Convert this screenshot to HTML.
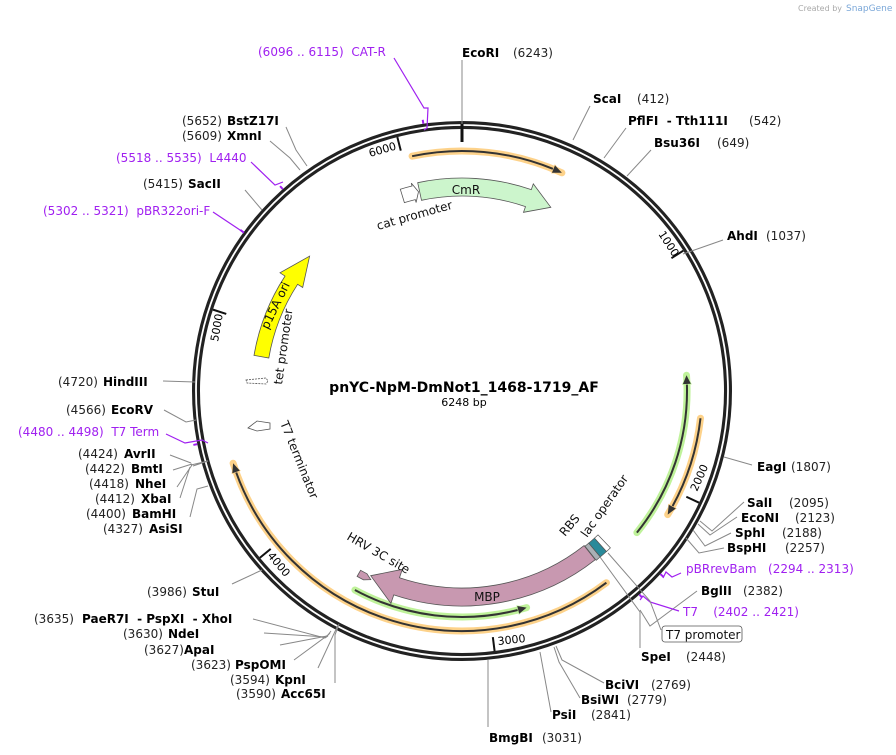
<!DOCTYPE html>
<html><head><meta charset="utf-8">
<style>
html,body{margin:0;padding:0;background:#fff;}
svg{display:block;font-family:"DejaVu Sans","Liberation Sans",sans-serif;}
.b{font-weight:bold;font-size:12px;fill:#000;}
.n{font-size:12px;fill:#222;}
.p{font-size:12px;fill:#a020f0;}
.f{font-size:12px;fill:#111;}
.gl{stroke:#888;stroke-width:1;fill:none;}
.pl{stroke:#a020f0;stroke-width:1.2;fill:none;}
</style></head><body>
<svg id="s" width="896" height="755" viewBox="0 0 896 755" xmlns="http://www.w3.org/2000/svg">
<g id="dyn"></g>
<text x="798" y="11" style="font-size:8px;fill:#aaa">Created by</text>
<text x="846" y="11" style="font-size:9px;fill:#7aa7d8">SnapGene</text>

<polyline class="gl" points="462,60 462,124"/>
<polyline class="gl" points="573,140 590,106"/>
<polyline class="gl" points="604,158 626,128"/>
<polyline class="gl" points="627,176 651,150"/>
<polyline class="gl" points="683,254 723,240"/>
<polyline class="gl" points="724,457 752,465"/>
<polyline class="gl" points="700,521 712,531 744,502"/>
<polyline class="gl" points="698,524 710,535 737,517"/>
<polyline class="gl" points="693,530 705,546 731,533"/>
<polyline class="gl" points="686,538 699,553 724,548"/>
<polyline class="pl" points="663,578 666,572 672,577 681,573"/>
<polyline class="gl" points="640,610 650,626 697,591"/>
<polyline class="pl" points="640,600 643,596 650,602 679,611"/>
<polyline class="gl" points="608,553 650,601 661,630"/>
<polyline class="gl" points="600,557 640,612 640,648"/>
<polyline class="gl" points="556,646 562,660 604,683"/>
<polyline class="gl" points="554,647 559,662 580,698"/>
<polyline class="gl" points="540,652 551,712"/>
<polyline class="gl" points="488,660 488,727"/>
<polyline class="gl" points="262,570 232,584"/>
<polyline class="gl" points="328,636 325,638 253,619"/>
<polyline class="gl" points="329,634 326,637 264,633"/>
<polyline class="gl" points="330,633 327,636 280,645"/>
<polyline class="gl" points="331,631 328,635 294,660"/>
<polyline class="gl" points="338,625 318,668"/>
<polyline class="gl" points="339,624 335,635 335,683"/>
<polyline class="gl" points="191,465 208,461 193,466"/>
<polyline class="gl" points="170,455 191,463"/>
<polyline class="gl" points="173,470 192,464"/>
<polyline class="gl" points="177,487 192,465"/>
<polyline class="gl" points="180,498 190,467"/>
<polyline class="gl" points="190,517 197,489 208,486"/>
<polyline class="pl" points="166,434 185,443 202,440 208,443"/>
<polyline class="gl" points="164,410 186,422 196,420"/>
<polyline class="gl" points="163,381 195,382"/>
<polyline class="gl" points="245,190 262,210"/>
<polyline class="pl" points="213,212 240,230 244,233"/>
<polyline class="pl" points="251,162 275,185 283,182"/>
<polyline class="gl" points="286,127 296,150 307,166"/>
<polyline class="gl" points="270,141 290,158 300,170"/>
<polyline class="pl" points="394,58 424,108 428,108 427,128 424,130"/>

<text x="258" y="56" class="p">(6096 .. 6115)&#160; CAT-R</text>
<text x="462" y="57" class="b">EcoRI</text><text x="513" y="57" class="n">(6243)</text>
<text x="593" y="103" class="b">ScaI</text><text x="637" y="103" class="n">(412)</text>
<text x="628" y="125" class="b">PflFI&#160; - Tth111I</text><text x="749" y="125" class="n">(542)</text>
<text x="654" y="147" class="b">Bsu36I</text><text x="717" y="147" class="n">(649)</text>
<text x="727" y="240" class="b">AhdI</text><text x="766" y="240" class="n">(1037)</text>
<text x="757" y="471" class="b">EagI</text><text x="791" y="471" class="n">(1807)</text>
<text x="747" y="507" class="b">SalI</text><text x="789" y="507" class="n">(2095)</text>
<text x="741" y="522" class="b">EcoNI</text><text x="795" y="522" class="n">(2123)</text>
<text x="735" y="537" class="b">SphI</text><text x="782" y="537" class="n">(2188)</text>
<text x="727" y="552" class="b">BspHI</text><text x="785" y="552" class="n">(2257)</text>
<text x="686" y="573" class="p">pBRrevBam&#160;&#160; (2294 .. 2313)</text>
<text x="701" y="595" class="b">BglII</text><text x="743" y="595" class="n">(2382)</text>
<text x="683" y="616" class="p">T7&#160;&#160;&#160; (2402 .. 2421)</text>
<rect x="662" y="626" width="80" height="16" rx="3" fill="#fff" stroke="#555" stroke-width="0.8"/>
<text x="666" y="639" class="f">T7 promoter</text>
<text x="641" y="661" class="b">SpeI</text><text x="686" y="661" class="n">(2448)</text>
<text x="605" y="689" class="b">BciVI</text><text x="651" y="689" class="n">(2769)</text>
<text x="581" y="704" class="b">BsiWI</text><text x="627" y="704" class="n">(2779)</text>
<text x="552" y="719" class="b">PsiI</text><text x="591" y="719" class="n">(2841)</text>
<text x="489" y="742" class="b">BmgBI</text><text x="542" y="742" class="n">(3031)</text>
<text x="147" y="596" class="n">(3986)</text><text x="192" y="596" class="b">StuI</text>
<text x="34" y="623" class="n">(3635)</text><text x="82" y="623" class="b">PaeR7I&#160; - PspXI&#160; - XhoI</text>
<text x="123" y="638" class="n">(3630)</text><text x="168" y="638" class="b">NdeI</text>
<text x="144" y="654" class="n">(3627)</text><text x="184" y="654" class="b">ApaI</text>
<text x="191" y="669" class="n">(3623)</text><text x="235" y="669" class="b">PspOMI</text>
<text x="230" y="684" class="n">(3594)</text><text x="275" y="684" class="b">KpnI</text>
<text x="236" y="698" class="n">(3590)</text><text x="281" y="698" class="b">Acc65I</text>
<text x="18" y="436" class="p">(4480 .. 4498)&#160; T7 Term</text>
<text x="78" y="458" class="n">(4424)</text><text x="124" y="458" class="b">AvrII</text>
<text x="85" y="473" class="n">(4422)</text><text x="131" y="473" class="b">BmtI</text>
<text x="89" y="488" class="n">(4418)</text><text x="135" y="488" class="b">NheI</text>
<text x="95" y="503" class="n">(4412)</text><text x="141" y="503" class="b">XbaI</text>
<text x="86" y="518" class="n">(4400)</text><text x="132" y="518" class="b">BamHI</text>
<text x="103" y="533" class="n">(4327)</text><text x="149" y="533" class="b">AsiSI</text>
<text x="66" y="414" class="n">(4566)</text><text x="111" y="414" class="b">EcoRV</text>
<text x="58" y="386" class="n">(4720)</text><text x="103" y="386" class="b">HindIII</text>
<text x="143" y="188" class="n">(5415)</text><text x="188" y="188" class="b">SacII</text>
<text x="43" y="215" class="p">(5302 .. 5321)&#160; pBR322ori-F</text>
<text x="116" y="162" class="p">(5518 .. 5535)&#160; L4440</text>
<text x="182" y="125" class="n">(5652)</text><text x="227" y="125" class="b">BstZ17I</text>
<text x="182" y="140" class="n">(5609)</text><text x="227" y="140" class="b">XmnI</text>

<text x="464" y="392" text-anchor="middle" style="font-size:14px;font-weight:bold">pnYC-NpM-DmNot1_1468-1719_AF</text>
<text x="464" y="406" text-anchor="middle" style="font-size:11px">6248 bp</text>

<text x="466" y="194" text-anchor="middle" class="f">CmR</text>
<text transform="translate(378,230) rotate(-16)" class="f">cat promoter</text>
<text transform="translate(268,330) rotate(-64)" class="f">p15A ori</text>
<text transform="translate(282,385) rotate(-82)" class="f">tet promoter</text>
<text transform="translate(280,423) rotate(68)" class="f">T7 terminator</text>
<text x="487" y="601" text-anchor="middle" class="f">MBP</text>
<text transform="translate(346,539) rotate(30)" class="f">HRV 3C site</text>
<text transform="translate(565,537) rotate(-50)" class="f">RBS</text>
<text transform="translate(587,538) rotate(-55)" class="f">lac operator</text>
<text transform="translate(658,234) rotate(57)" style="font-size:11px">1000</text>
<text transform="translate(697,492) rotate(-66)" style="font-size:11px">2000</text>
<text transform="translate(498,645) rotate(-6)" style="font-size:11px">3000</text>
<text transform="translate(267,556) rotate(50)" style="font-size:11px">4000</text>
<text transform="translate(218,342) rotate(-80)" style="font-size:11px">5000</text>
<text transform="translate(370,157) rotate(-16)" style="font-size:11px">6000</text>
</svg>
<script>
(function(){
var cx=462,cy=391,NS="http://www.w3.org/2000/svg",g=document.getElementById("dyn");
function P(a,r){var t=a*Math.PI/180;return [cx+r*Math.sin(t),cy-r*Math.cos(t)];}
function f(p){return p[0].toFixed(1)+","+p[1].toFixed(1);}
function arc(a1,a2,r){var s=P(a1,r),e=P(a2,r),sw=a2>a1?1:0,l=Math.abs(a2-a1)>180?1:0;
 return "M"+f(s)+" A"+r+","+r+" 0 "+l+" "+sw+" "+f(e);}
function el(t,at){var e=document.createElementNS(NS,t);for(var k in at)e.setAttribute(k,at[k]);g.appendChild(e);return e;}
function band(a1,a2,ah,r1,r2,ext,fill){
 var rm=(r1+r2)/2,sw=a2>a1?1:0,sw2=1-sw;
 var d="M"+f(P(a1,r2))+" A"+r2+","+r2+" 0 0 "+sw+" "+f(P(ah,r2))+" L"+f(P(ah,r2+ext))+" L"+f(P(a2,rm))+" L"+f(P(ah,r1-ext))+" L"+f(P(ah,r1))+" A"+r1+","+r1+" 0 0 "+sw2+" "+f(P(a1,r1))+" Z";
 el("path",{d:d,fill:fill,stroke:"#555","stroke-width":0.8});}
function hl(a1,a2,r,col){
 el("path",{d:arc(a1,a2,r),stroke:col,"stroke-width":7,fill:"none","stroke-linecap":"round"});
 var dir=a2>a1?1:-1,ab=a2-dir*2.2;
 el("path",{d:arc(a1,ab,r),stroke:"#333","stroke-width":2,fill:"none"});
 var t=P(a2,r),b1=P(ab,r+4),b2=P(ab,r-4);
 el("path",{d:"M"+f(t)+" L"+f(b1)+" L"+f(b2)+" Z",fill:"#333",stroke:col,"stroke-width":1.2,"paint-order":"stroke"});
}
el("circle",{cx:cx,cy:cy,r:266,fill:"none",stroke:"#222","stroke-width":8});
el("circle",{cx:cx,cy:cy,r:266,fill:"none",stroke:"#fff","stroke-width":1.8});
el("line",{x1:462,y1:123,x2:462,y2:142,stroke:"#111","stroke-width":3});
[1000,2000,3000,4000,5000,6000].forEach(function(b){var a=b/6248*360;var p1=P(a,262),p2=P(a,248);
 el("line",{x1:p1[0],y1:p1[1],x2:p2[0],y2:p2[1],stroke:"#111","stroke-width":2});});
hl(-12,24.6,240,"#fdd28a");
hl(96.5,121,240,"#fdd28a");
hl(143,252.5,240,"#fdd28a");
hl(129,86,225,"#bff29a");
hl(208.3,163.4,226,"#bff29a");
band(-12,25.8,19,195,213,6,"#ccf5cc");
band(-17,-12.3,-13.7,197,211,3,"#fff");
band(279.7,311.5,303,196,211,6,"#ffff00");
band(141.7,206.3,198.5,197,215,9,"#c898b0");
band(209.5,205.8,207.5,206,213,0,"#c898b0");
(function(){var d=function(a1,a2,fill){el("path",{d:"M"+f(P(a1,198))+" A198,198 0 0 0 "+f(P(a2,198))+" L"+f(P(a2,216))+" A216,216 0 0 1 "+f(P(a1,216))+" Z",fill:fill,stroke:"#555","stroke-width":0.7});};
 d(141.6,140.2,"#aab0b5");d(140.2,138.0,"#2a8a9a");d(138.0,136.6,"#fff");})();
el("path",{d:"M246,380 L266,378 L268,381 L266,384 L247,383 Z",fill:"#fff",stroke:"#555","stroke-width":0.8,"stroke-dasharray":"2,1"});
el("path",{d:"M248,428 L257,421 L270,423 L270,429 L257,431 Z",fill:"#fff",stroke:"#555","stroke-width":0.8});
[6105,5526,5311,4489,2303,2411].forEach(function(x){var a=x/6248*360;var p1=P(a,270),p2=P(a,274);
 el("line",{x1:p1[0],y1:p1[1],x2:p2[0],y2:p2[1],stroke:"#a020f0","stroke-width":2});});
})();
</script>
</body></html>
